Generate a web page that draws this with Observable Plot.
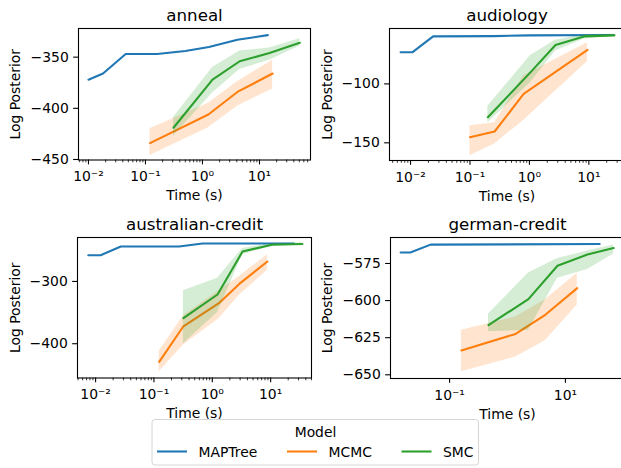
<!DOCTYPE html>
<html><head><meta charset="utf-8">
<script src="https://cdn.jsdelivr.net/npm/d3@7"></script>
<script src="https://cdn.jsdelivr.net/npm/@observablehq/plot@0.6"></script>
<style>
html,body{margin:0;padding:0;background:#fff;overflow:hidden;}
#root{position:relative;width:621px;height:468px;overflow:hidden;font-family:"DejaVu Sans",sans-serif;background:#fff;}
#root > svg{position:absolute;}
</style></head><body><div id="root"></div>
<script>
// ---- categories ----
const datasets = ["anneal", "audiology", "australian-credit", "german-credit"];
const models = ["MAPTree", "MCMC", "SMC"];
const modelColors = ["#1f77b4", "#ff7f0e", "#2ca02c"];

// ---- anneal ----
const anneal_MAPTree_t = [0.01, 0.018, 0.045, 0.16, 0.5, 1.3, 4.1, 14];
const anneal_MAPTree_y = [-372, -366, -347, -347, -344, -340, -333, -328.5];
const anneal_MCMC_t = [0.12, 1.27, 4.1, 17];
const anneal_MCMC_y = [-434, -406, -384, -366];
const anneal_MCMC_lo = [-446, -419, -398, -381];
const anneal_MCMC_hi = [-420, -395, -374, -353];
const anneal_SMC_t = [0.31, 1.5, 4.5, 15, 51];
const anneal_SMC_y = [-419, -372, -354, -346, -336];
const anneal_SMC_lo = [-427, -385, -362, -353, -339];
const anneal_SMC_hi = [-409, -360, -344, -341, -332];

// ---- audiology ----
const audiology_MAPTree_t = [0.0068, 0.0107, 0.024, 0.25, 1.0, 26];
const audiology_MAPTree_y = [-73.2, -73.2, -59.7, -59.5, -58.8, -58.5];
const audiology_MCMC_t = [0.1, 0.26, 0.8, 9.5];
const audiology_MCMC_y = [-145.2, -140.4, -108.5, -71.2];
const audiology_MCMC_lo = [-161, -151, -131, -81];
const audiology_MCMC_hi = [-135.6, -133, -93, -65];
const audiology_SMC_t = [0.2, 1.04, 2.75, 8.3, 27];
const audiology_SMC_y = [-128.3, -90.2, -67, -59.7, -58.8];
const audiology_SMC_lo = [-133, -99, -72, -62, -59.5];
const audiology_SMC_hi = [-119, -76, -63, -58, -57.8];

// ---- australian-credit ----
const australian_MAPTree_t = [0.0075, 0.0122, 0.027, 0.27, 0.68, 25];
const australian_MAPTree_y = [-258, -258, -244, -244, -239, -239];
const australian_MCMC_t = [0.123, 0.32, 1.3, 2.9, 8.8];
const australian_MCMC_y = [-429, -372, -335, -304, -268];
const australian_MCMC_lo = [-445, -402, -360, -322, -282];
const australian_MCMC_hi = [-412, -355, -315, -292, -257];
const australian_SMC_t = [0.32, 1.23, 3.3, 10.6, 35];
const australian_SMC_y = [-359, -321, -252, -241, -240];
const australian_SMC_lo = [-400, -350, -257, -243, -241];
const australian_SMC_hi = [-315, -295, -247, -239, -238];

// ---- german-credit ----
const german_MAPTree_t = [0.0143, 0.021, 0.047, 39];
const german_MAPTree_y = [-567.6, -567.6, -562.3, -561.9];
const german_MCMC_t = [0.16, 1.38, 4.5, 16];
const german_MCMC_y = [-633.6, -622.5, -609.6, -591.6];
const german_MCMC_lo = [-648, -638, -627, -603];
const german_MCMC_hi = [-620, -611, -599.5, -581.6];
const german_SMC_t = [0.47, 2.3, 7.3, 24, 68];
const german_SMC_y = [-616.5, -599, -576.5, -569, -564.6];
const german_SMC_lo = [-621, -620, -585, -579, -568.6];
const german_SMC_hi = [-609, -581.5, -571.7, -566.6, -562.6];

// ---- tick labels ----
const anneal_yTicks = [-350, -400, -450];
const audiology_yTicks = [-100, -150];
const australian_yTicks = [-300, -400];
const german_yTicks = [-575, -600, -625, -650];
const anneal_xTicks = [0.01, 0.1, 1, 10];
const audiology_xTicks = [0.01, 0.1, 1, 10];
const australian_xTicks = [0.01, 0.1, 1, 10];
const german_xTicks = [0.1, 10];

const sup = {"-": "\u207B", "0": "\u2070", "1": "\u00B9", "2": "\u00B2", "3": "\u00B3"};
const fmtPow = v => "10" + String(Math.round(Math.log10(v))).split("").map(c => sup[c]).join("");

function rows(t, y, lo, hi) {
  return t.map((d, i) => ({t: d, y: y[i], lo: lo ? lo[i] : null, hi: hi ? hi[i] : null}));
}
function minorTicks(dom) {
  const out = [];
  for (let e = -4; e <= 3; e++) for (let m = 2; m <= 9; m++) {
    const v = m * Math.pow(10, e);
    if (v >= dom[0] && v <= dom[1]) out.push(v);
  }
  return out;
}

const root = document.getElementById("root");

function panel(cfg) {
  const marks = [];
  cfg.series.forEach((s, i) => {
    const c = modelColors[models.indexOf(s.model)];
    marks.push(Plot.line(s.data, {x: "t", y: "y", stroke: c, strokeWidth: 2.08}));
    if (s.band) marks.push(Plot.areaY(s.data, {x: "t", y1: "lo", y2: "hi", fill: c, fillOpacity: 0.2}));
  });
  if (cfg.minor) marks.push(Plot.axisX(minorTicks(cfg.xDomain), {tickSize: 2.8, strokeWidth: 0.8, tickFormat: () => "", label: null}));
  marks.push(Plot.axisX(cfg.xTicks, {tickSize: 4.86, tickPadding: 6.5, strokeWidth: 1.1, tickFormat: fmtPow, fontSize: 13.9,
    label: "Time (s)", labelAnchor: "center", labelOffset: 40, labelArrow: false}));
  marks.push(Plot.axisY(cfg.yTicks, {tickSize: 4.86, tickPadding: 4.86, strokeWidth: 1.1, fontSize: 13.9,
    label: "Log Posterior", labelAnchor: "center", labelOffset: cfg.ylo, labelArrow: false}));
  marks.push(Plot.frame({stroke: "black", strokeWidth: 1.1}));
  marks.push(Plot.text([cfg.title], {frameAnchor: "top", lineAnchor: "bottom", dy: -8, fontSize: 16.7, text: d => d}));
  const el = Plot.plot({
    width: cfg.width, height: cfg.height,
    marginLeft: cfg.ml, marginRight: cfg.mr, marginTop: cfg.mt, marginBottom: cfg.mb,
    x: {type: "log", domain: cfg.xDomain},
    y: {domain: cfg.yDomain},
    style: {background: "transparent", overflow: "visible", fontFamily: "DejaVu Sans", fontSize: "13.9px", color: "black"},
    marks
  });
  el.style.left = cfg.left + "px";
  el.style.top = cfg.top + "px";
  root.appendChild(el);
}

panel({title: datasets[0], left: 0, top: 0, width: 316, height: 212, ml: 78, mr: 6, mt: 28, mb: 52.5, ylo: 68.4,
  xDomain: [Math.pow(10, -2.175), Math.pow(10, 1.895)], yDomain: [-450.5, -322], xTicks: anneal_xTicks, yTicks: anneal_yTicks, minor: true,
  series: [
    {model: "MAPTree", data: rows(anneal_MAPTree_t, anneal_MAPTree_y)},
    {model: "MCMC", band: true, data: rows(anneal_MCMC_t, anneal_MCMC_y, anneal_MCMC_lo, anneal_MCMC_hi)},
    {model: "SMC", band: true, data: rows(anneal_SMC_t, anneal_SMC_y, anneal_SMC_lo, anneal_SMC_hi)}
  ]});
panel({title: datasets[1], left: 311, top: 0, width: 320, height: 212, ml: 78, mr: 7, mt: 28, mb: 52, ylo: 67,
  xDomain: [Math.pow(10, -2.354), Math.pow(10, 1.6)], yDomain: [-165, -53], xTicks: audiology_xTicks, yTicks: audiology_yTicks, minor: true,
  series: [
    {model: "MAPTree", data: rows(audiology_MAPTree_t, audiology_MAPTree_y)},
    {model: "MCMC", band: true, data: rows(audiology_MCMC_t, audiology_MCMC_y, audiology_MCMC_lo, audiology_MCMC_hi)},
    {model: "SMC", band: true, data: rows(audiology_SMC_t, audiology_SMC_y, audiology_SMC_lo, audiology_SMC_hi)}
  ]});
panel({title: datasets[2], left: 0, top: 209, width: 316, height: 212, ml: 77, mr: 5, mt: 28, mb: 43.5, ylo: 67.4,
  xDomain: [Math.pow(10, -2.31), Math.pow(10, 1.70)], yDomain: [-455, -229.5], xTicks: australian_xTicks, yTicks: australian_yTicks, minor: true,
  series: [
    {model: "MAPTree", data: rows(australian_MAPTree_t, australian_MAPTree_y)},
    {model: "MCMC", band: true, data: rows(australian_MCMC_t, australian_MCMC_y, australian_MCMC_lo, australian_MCMC_hi)},
    {model: "SMC", band: true, data: rows(australian_SMC_t, australian_SMC_y, australian_SMC_lo, australian_SMC_hi)}
  ]});
panel({title: datasets[3], left: 311, top: 209, width: 320, height: 212, ml: 79, mr: 7, mt: 28, mb: 43, ylo: 68,
  xDomain: [Math.pow(10, -2.02), Math.pow(10, 2.02)], yDomain: [-652.5, -557.5], xTicks: german_xTicks, yTicks: german_yTicks, minor: false,
  series: [
    {model: "MAPTree", data: rows(german_MAPTree_t, german_MAPTree_y)},
    {model: "MCMC", band: true, data: rows(german_MCMC_t, german_MCMC_y, german_MCMC_lo, german_MCMC_hi)},
    {model: "SMC", band: true, data: rows(german_SMC_t, german_SMC_y, german_SMC_lo, german_SMC_hi)}
  ]});

// ---- legend ----
const leg = d3.create("svg").attr("width", 621).attr("height", 468)
  .style("left", "0px").style("top", "0px").style("font-family", "DejaVu Sans").style("font-size", "13.9px");
leg.append("rect").attr("x", 152).attr("y", 419.5).attr("width", 326.5).attr("height", 45.5).attr("rx", 3)
  .attr("fill", "white").attr("fill-opacity", 0.8).attr("stroke", "#d6d6d6").attr("stroke-width", 1);
leg.append("text").attr("x", 315.5).attr("y", 436.5).attr("text-anchor", "middle").attr("fill", "black").text("Model");
const legX = [157, 287, 401.5];
models.forEach((m, i) => {
  leg.append("line").attr("x1", legX[i]).attr("x2", legX[i] + 30).attr("y1", 451.5).attr("y2", 451.5)
    .attr("stroke", modelColors[i]).attr("stroke-width", 2.08);
  leg.append("text").attr("x", legX[i] + 41.5).attr("y", 456.5).attr("fill", "black").text(m);
});
root.appendChild(leg.node());
</script></body></html>
